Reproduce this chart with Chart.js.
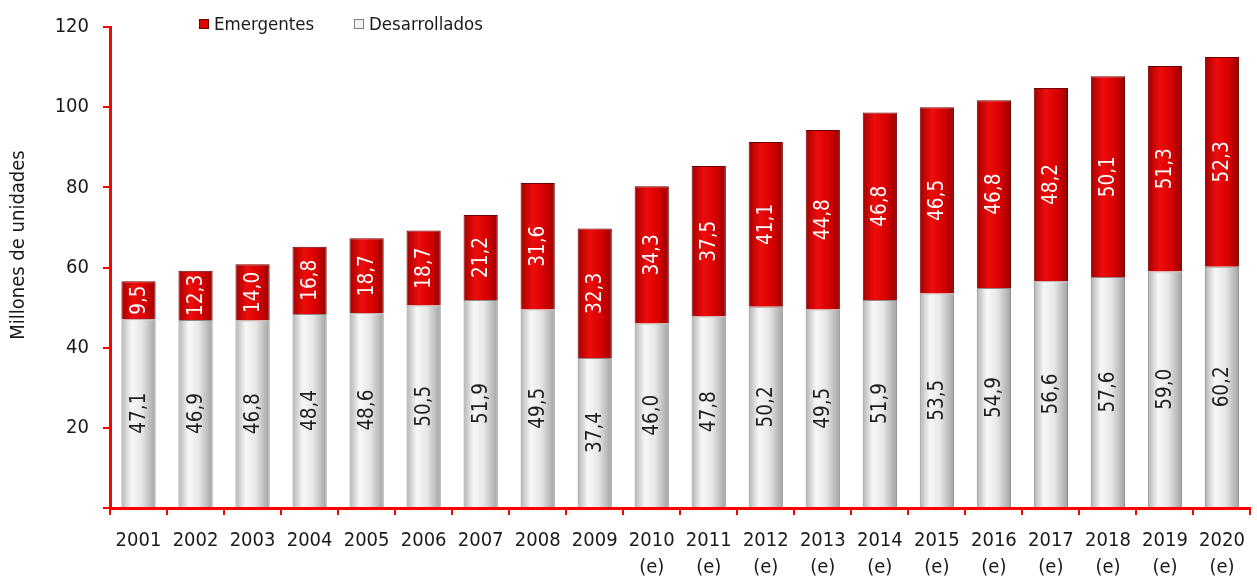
<!DOCTYPE html>
<html lang="es">
<head>
  <meta charset="UTF-8" />
  <title>Ventas de vehículos</title>
  <script src="https://cdn.jsdelivr.net/npm/chart.js"></script>
  <style>
    html, body { margin: 0; padding: 0; background: #fff; }
    .wrap { position: relative; width: 1257px; height: 581px; }
  </style>
</head>
<body>
  <div class="wrap">
    <canvas id="ventas"></canvas>
  </div>

  <script>
    const years = ["2001", "2002", "2003", "2004", "2005", "2006", "2007", "2008", "2009",
      ["2010", "(e)"], ["2011", "(e)"], ["2012", "(e)"], ["2013", "(e)"], ["2014", "(e)"],
      ["2015", "(e)"], ["2016", "(e)"], ["2017", "(e)"], ["2018", "(e)"], ["2019", "(e)"], ["2020", "(e)"]];
    const desarrollados = [47.1, 46.9, 46.8, 48.4, 48.6, 50.5, 51.9, 49.5, 37.4, 46.0,
      47.8, 50.2, 49.5, 51.9, 53.5, 54.9, 56.6, 57.6, 59.0, 60.2];
    const emergentes = [9.5, 12.3, 14.0, 16.8, 18.7, 18.7, 21.2, 31.6, 32.3, 34.3,
      37.5, 41.1, 44.8, 46.8, 46.5, 46.8, 48.2, 50.1, 51.3, 52.3];

    const FONT = "'DejaVu Sans Condensed', 'DejaVu Sans', sans-serif";
    const AXIS_RED = "#ff0000";

    // colour stops for the cylinder shading of each series
    const shades = {
      grey: [[0, "#b4b4b4"], [0.3, "#f8f8f8"], [0.6, "#e6e6e6"], [1, "#a2a2a2"]],
      red: [[0, "#a40000"], [0.35, "#ee0c0c"], [0.7, "#d60000"], [1, "#960000"]]
    };

    const fmt = v => v.toFixed(1).replace(".", ",");

    // horizontal gradient per bar, built once the bars have their geometry
    const cylinderShade = {
      id: "cylinderShade",
      beforeDatasetsDraw(chart) {
        const ctx = chart.ctx;
        chart.data.datasets.forEach((ds, i) => {
          chart.getDatasetMeta(i).data.forEach(el => {
            const { x, width } = el.getProps(["x", "width"], true);
            const g = ctx.createLinearGradient(x - width / 2, 0, x + width / 2, 0);
            shades[ds.shade].forEach(([p, c]) => g.addColorStop(p, c));
            el.options.backgroundColor = g;
          });
        });
      }
    };

    // rotated value labels in the middle of each segment
    const segmentLabels = {
      id: "segmentLabels",
      afterDatasetsDraw(chart) {
        const ctx = chart.ctx;
        ctx.save();
        ctx.font = "20.5px " + FONT;
        ctx.textAlign = "center";
        ctx.textBaseline = "middle";
        chart.data.datasets.forEach((ds, i) => {
          ctx.fillStyle = ds.labelColor;
          chart.getDatasetMeta(i).data.forEach((el, j) => {
            const { x, y, base } = el.getProps(["x", "y", "base"], true);
            ctx.save();
            ctx.translate(x, (y + base) / 2);
            ctx.rotate(-Math.PI / 2);
            ctx.fillText(fmt(ds.data[j]), 0, 1);
            ctx.restore();
          });
        });
        ctx.restore();
      }
    };

    // legend sitting inside the plot top, plus the y axis title
    const extras = {
      id: "extras",
      afterDraw(chart) {
        const ctx = chart.ctx;
        const left = chart.chartArea.left;
        ctx.save();
        ctx.font = "18.5px " + FONT;
        ctx.textBaseline = "middle";
        const items = [
          { text: "Emergentes", fill: "#e00000", stroke: "#700000", dx: 89 },
          { text: "Desarrollados", fill: "#f2f2f2", stroke: "#808080", dx: 244 }
        ];
        items.forEach(it => {
          ctx.fillStyle = it.fill;
          ctx.strokeStyle = it.stroke;
          ctx.lineWidth = 1;
          ctx.fillRect(left + it.dx, 19, 10, 10);
          ctx.strokeRect(left + it.dx + 0.5, 19.5, 9, 9);
          ctx.fillStyle = "#1a1a1a";
          ctx.fillText(it.text, left + it.dx + 15, 25);
        });

        ctx.font = "20px " + FONT;
        ctx.textAlign = "center";
        ctx.translate(19, 245);
        ctx.rotate(-Math.PI / 2);
        ctx.fillText("Millones de unidades", 0, 0);
        ctx.restore();
      }
    };

    new Chart(document.getElementById("ventas"), {
      type: "bar",
      data: {
        labels: years,
        datasets: [
          {
            label: "Desarrollados",
            data: desarrollados,
            shade: "grey",
            labelColor: "#1e1e1e",
            backgroundColor: () => "#eeeeee",
            borderColor: "#8c8c8c",
            borderWidth: 1
          },
          {
            label: "Emergentes",
            data: emergentes,
            shade: "red",
            labelColor: "#ffffff",
            backgroundColor: () => "#e00000",
            borderColor: "#6e0000",
            borderWidth: 1
          }
        ]
      },
      options: {
        responsive: true,
        maintainAspectRatio: false,
        animation: false,
        layout: { padding: { top: 27, right: 5, left: 0, bottom: 0 } },
        datasets: { bar: { categoryPercentage: 0.6, barPercentage: 1 } },
        plugins: {
          legend: { display: false },
          tooltip: { enabled: false }
        },
        scales: {
          x: {
            stacked: true,
            border: { color: AXIS_RED, width: 3 },
            grid: { drawOnChartArea: false, color: AXIS_RED, tickLength: 7, lineWidth: 2 },
            ticks: {
              autoSkip: false,
              maxRotation: 0,
              padding: 12,
              color: "#1a1a1a",
              font: { family: FONT, size: 20, lineHeight: 1.35 }
            },
            afterFit(scale) { scale.height = 73; }
          },
          y: {
            stacked: true,
            min: 0,
            max: 120,
            border: { color: AXIS_RED, width: 3 },
            grid: { drawOnChartArea: false, color: AXIS_RED, tickLength: 7, lineWidth: 2 },
            ticks: {
              stepSize: 20,
              padding: 14,
              color: "#1a1a1a",
              font: { family: FONT, size: 20 },
              callback: v => (v === 0 ? "" : v)
            },
            afterFit(scale) { scale.width = 110; }
          }
        }
      },
      plugins: [cylinderShade, segmentLabels, extras]
    });
  </script>
</body>
</html>
